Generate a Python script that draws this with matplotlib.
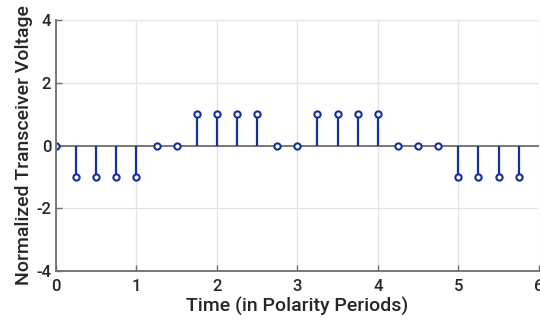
import numpy as np
import matplotlib
matplotlib.use('Agg')
import matplotlib.pyplot as plt

# sample times and levels
t = np.arange(24) * 0.25
levels = [0, -1, -1, -1, -1, 0, 0, 1, 1, 1, 1, 0, 0,
          1, 1, 1, 1, 0, 0, 0, -1, -1, -1, -1]

x_ticks = [0, 1, 2, 3, 4, 5, 6]
y_ticks = [-4, -2, 0, 2, 4]

plt.rcParams['font.family'] = ['Roboto', 'DejaVu Sans']
plt.rcParams['axes.unicode_minus'] = False

fig = plt.figure(figsize=(5.4, 3.27), dpi=100)
ax = fig.add_axes([0.1037, 0.171, 0.894, 0.768])

blue = '#16309a'
gray = '#6e6e6e'
txt = '#262626'

ml, sl, bl = ax.stem(t, levels, basefmt=' ')
plt.setp(sl, color=blue, linewidth=1.6)
plt.setp(ml, marker='o', markersize=4.5, markerfacecolor='white',
         markeredgecolor=blue, markeredgewidth=1.5)
ax.axhline(0, color=gray, linewidth=1.3, zorder=1)

ax.set_xlim(0, 6)
ax.set_ylim(-4, 4)
ax.set_xticks(x_ticks)
ax.set_yticks(y_ticks)
ax.grid(True, color='#e3e3e3', linewidth=0.9)
ax.set_axisbelow(True)

for s in ['top', 'right']:
    ax.spines[s].set_visible(False)
for s in ['left', 'bottom']:
    ax.spines[s].set_color(gray)
    ax.spines[s].set_linewidth(1.3)

ax.tick_params(direction='in', length=4, width=1, color=gray,
               labelcolor=txt, labelsize=12)
ax.tick_params(axis='x', pad=6)
for lab in ax.get_xticklabels() + ax.get_yticklabels():
    lab.set_fontweight('medium')

ax.set_xlabel('Time (in Polarity Periods)', fontsize=14, color=txt,
              labelpad=2, fontweight='medium')
ax.set_ylabel('Normalized Transceiver Voltage', fontsize=14, color=txt,
              labelpad=2, fontweight='medium')

fig.savefig('out.png', dpi=100)
